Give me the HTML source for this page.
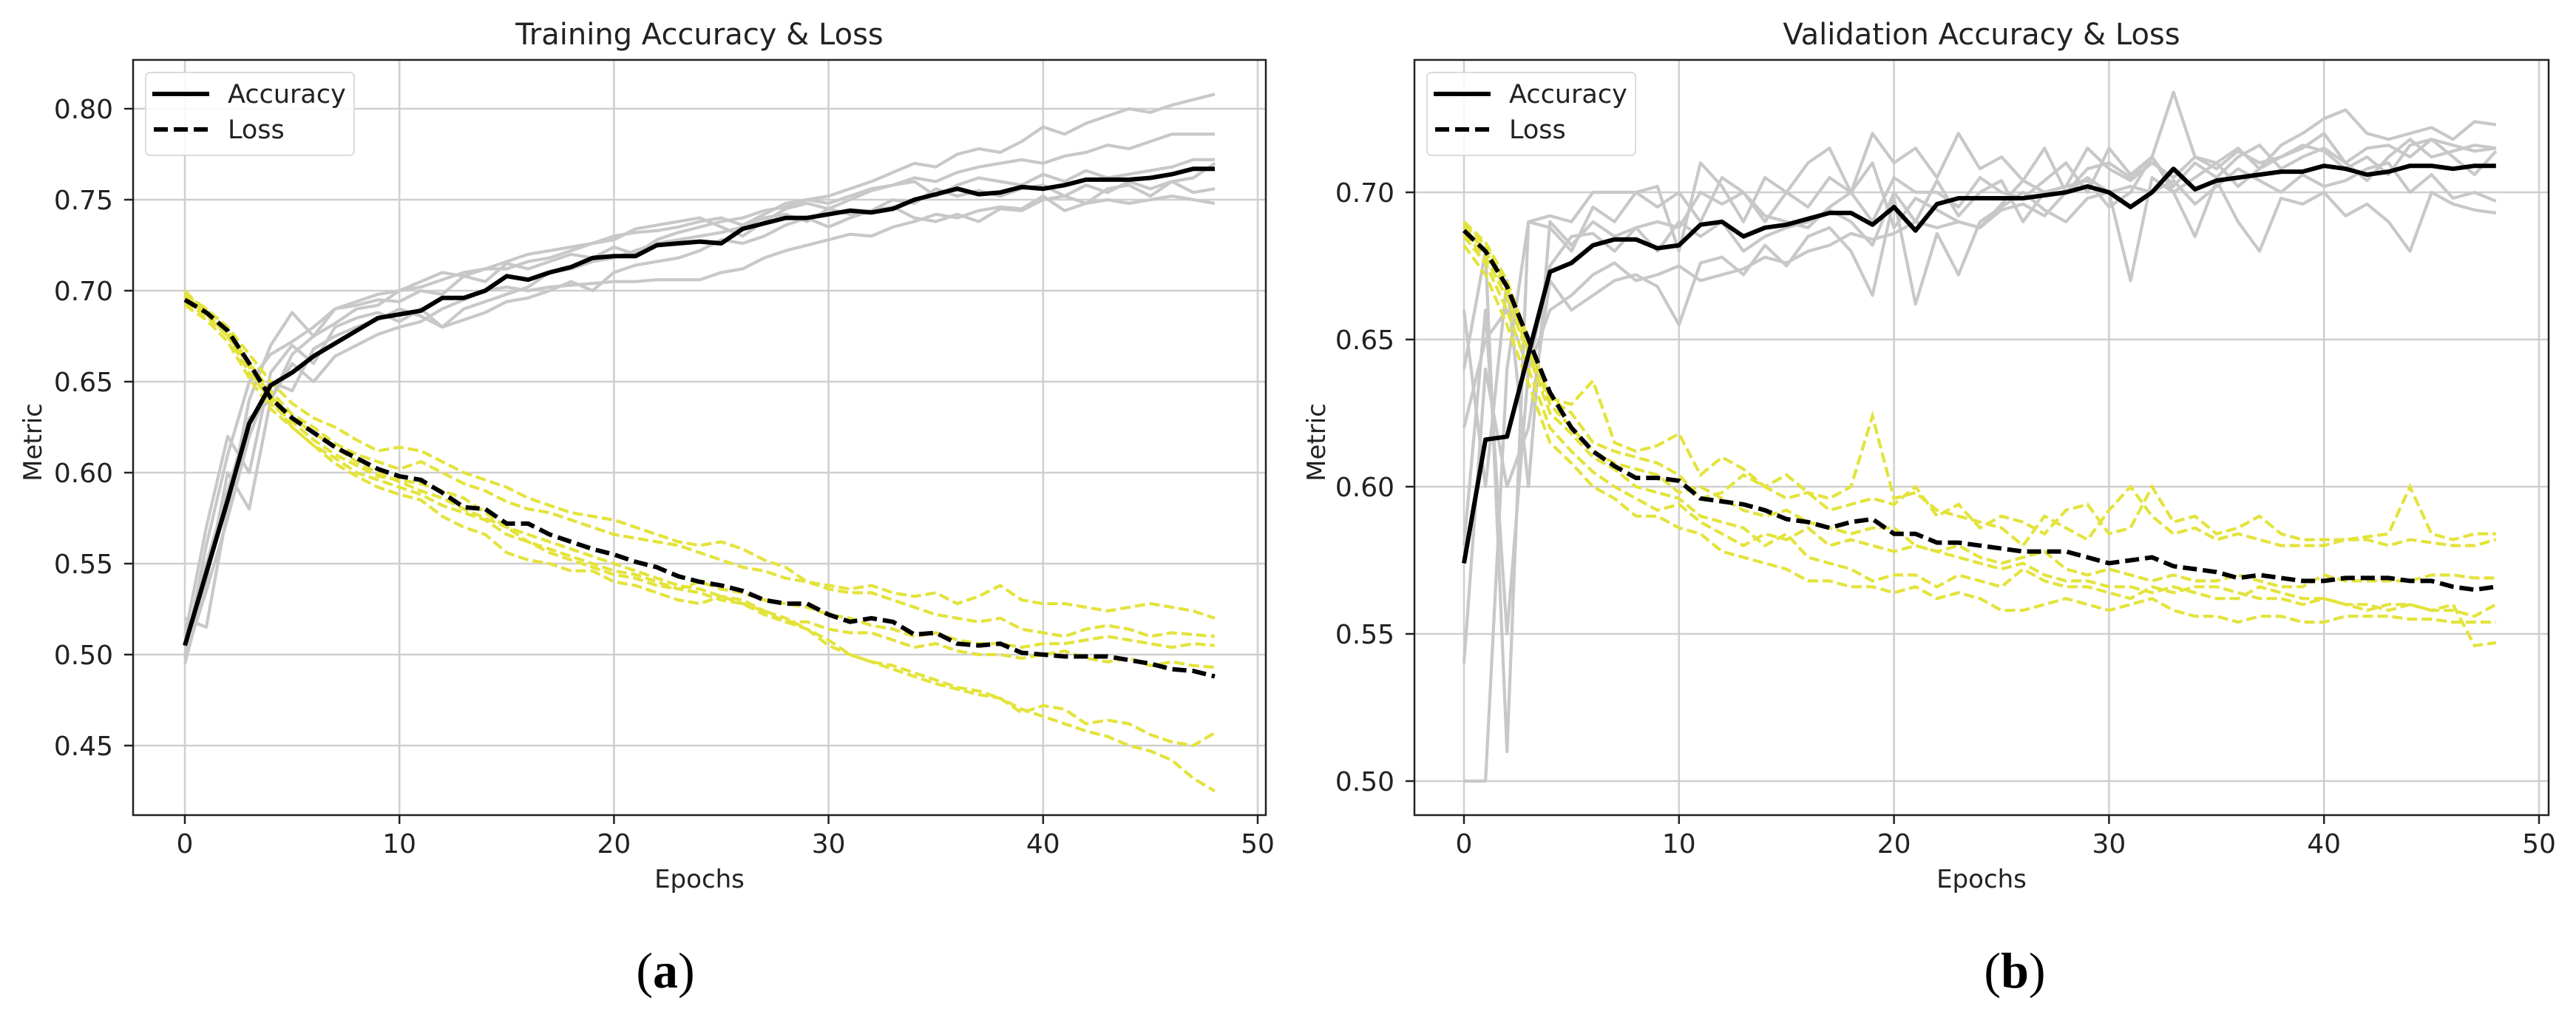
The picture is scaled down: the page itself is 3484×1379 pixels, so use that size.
<!DOCTYPE html>
<html><head><meta charset="utf-8"><style>
html,body{margin:0;padding:0;background:#fff;}
svg{display:block;}
text{font-family:"DejaVu Sans","Liberation Sans",sans-serif;fill:#222;}
</style></head><body>
<svg id="fig" width="3484" height="1379" viewBox="0 0 3484 1379" xmlns="http://www.w3.org/2000/svg"></svg>
<script>
const epochs = Array.from({length:49},(_,i)=>i);
// ---------- Training panel ----------
const trainAccMean = [.505,.545,.585,.627,.648,.655,.664,.671,.678,.685,.687,.689,.696,.696,.700,.708,.706,.710,.713,.718,.719,.719,.725,.726,.727,.726,.734,.737,.740,.740,.742,.744,.743,.745,.750,.753,.756,.753,.754,.757,.756,.758,.761,.761,.761,.762,.764,.767,.767];
const trainLossMean = [.695,.688,.678,.660,.641,.630,.622,.614,.608,.602,.598,.596,.589,.581,.580,.572,.572,.566,.562,.558,.555,.551,.548,.543,.540,.538,.535,.530,.528,.528,.522,.518,.520,.518,.511,.512,.506,.505,.506,.501,.500,.499,.499,.499,.497,.495,.492,.491,.488];
const trainAccRun1 = [.500,.560,.610,.650,.665,.672,.680,.690,.694,.698,.700,.702,.706,.710,.712,.712,.716,.718,.722,.726,.730,.732,.733,.735,.738,.740,.736,.742,.748,.750,.752,.756,.760,.765,.770,.768,.775,.778,.776,.782,.790,.786,.792,.796,.800,.798,.802,.805,.808];
const trainAccRun2 = [.520,.515,.580,.640,.670,.688,.675,.690,.692,.695,.694,.700,.698,.708,.705,.715,.712,.716,.720,.718,.724,.720,.728,.732,.735,.738,.740,.744,.746,.750,.748,.752,.756,.758,.762,.760,.765,.768,.770,.772,.770,.774,.776,.780,.778,.782,.786,.786,.786];
const trainAccRun3 = [.495,.540,.600,.580,.640,.660,.650,.664,.670,.676,.680,.683,.690,.695,.700,.702,.700,.702,.703,.704,.705,.705,.706,.706,.706,.710,.712,.718,.722,.725,.728,.731,.730,.735,.738,.742,.740,.744,.746,.745,.752,.744,.748,.750,.748,.750,.752,.750,.748];
const trainAccRun4 = [.510,.570,.620,.600,.655,.670,.660,.680,.685,.688,.683,.690,.680,.690,.694,.698,.702,.710,.712,.716,.718,.722,.726,.728,.730,.732,.735,.740,.742,.738,.745,.742,.744,.746,.740,.738,.742,.738,.745,.744,.750,.752,.748,.756,.758,.752,.760,.762,.770];
const trainAccRun5 = [.505,.550,.590,.630,.640,.665,.675,.682,.690,.692,.700,.705,.710,.708,.712,.716,.720,.722,.724,.726,.728,.734,.736,.738,.740,.735,.730,.738,.745,.748,.745,.750,.755,.758,.760,.752,.758,.762,.760,.758,.764,.760,.766,.762,.764,.766,.768,.772,.772];
const trainAccRun6 = [.498,.535,.575,.620,.650,.645,.668,.675,.680,.684,.690,.686,.680,.684,.688,.694,.696,.700,.705,.700,.710,.714,.716,.718,.722,.728,.726,.730,.736,.740,.735,.740,.744,.750,.748,.756,.752,.755,.752,.756,.758,.752,.758,.754,.760,.756,.760,.754,.756];
const trainLossRun1 = [.700,.688,.675,.655,.640,.625,.615,.608,.600,.596,.592,.588,.582,.578,.574,.566,.562,.558,.554,.550,.546,.544,.540,.536,.534,.530,.528,.522,.518,.514,.508,.500,.496,.492,.488,.484,.481,.478,.476,.470,.466,.462,.458,.455,.450,.447,.442,.432,.425];
const trainLossRun2 = [.698,.690,.678,.660,.642,.630,.622,.614,.606,.600,.595,.590,.586,.580,.575,.570,.566,.562,.558,.554,.550,.546,.542,.538,.536,.532,.528,.524,.520,.514,.505,.500,.496,.494,.490,.486,.482,.480,.476,.468,.472,.470,.462,.464,.462,.456,.452,.450,.457];
const trainLossRun3 = [.696,.690,.680,.665,.650,.638,.630,.625,.618,.612,.614,.612,.606,.600,.596,.592,.586,.582,.578,.576,.574,.570,.566,.562,.560,.562,.558,.552,.548,.540,.538,.536,.538,.534,.532,.534,.528,.532,.538,.530,.528,.528,.526,.524,.526,.528,.526,.524,.520];
const trainLossRun4 = [.694,.686,.675,.660,.645,.632,.625,.616,.610,.606,.602,.606,.600,.594,.590,.584,.580,.578,.574,.570,.566,.564,.562,.560,.556,.552,.548,.546,.542,.540,.536,.534,.534,.530,.526,.522,.520,.518,.520,.514,.512,.510,.514,.516,.514,.510,.512,.511,.510];
const trainLossRun5 = [.692,.684,.672,.652,.635,.625,.615,.605,.598,.592,.588,.585,.576,.570,.566,.556,.552,.550,.546,.546,.540,.538,.534,.530,.528,.532,.530,.524,.518,.518,.514,.512,.512,.508,.504,.506,.502,.500,.500,.498,.500,.502,.498,.496,.498,.494,.496,.494,.493];
const trainLossRun6 = [.697,.687,.676,.658,.638,.628,.618,.610,.604,.598,.596,.594,.590,.586,.578,.570,.562,.556,.552,.548,.544,.542,.538,.536,.540,.536,.534,.530,.528,.526,.522,.520,.516,.514,.510,.512,.508,.506,.506,.504,.506,.506,.508,.510,.508,.506,.504,.506,.505];
const trainYTicks = [0.45,0.50,0.55,0.60,0.65,0.70,0.75,0.80];
// ---------- Validation panel ----------
const valAccMean = [.574,.616,.617,.645,.673,.676,.682,.684,.684,.681,.682,.689,.690,.685,.688,.689,.691,.693,.693,.689,.695,.687,.696,.698,.698,.698,.698,.699,.700,.702,.700,.695,.700,.708,.701,.704,.705,.706,.707,.707,.709,.708,.706,.707,.709,.709,.708,.709,.709];
const valLossMean = [.687,.680,.668,.650,.632,.620,.612,.607,.603,.603,.602,.596,.595,.594,.592,.589,.588,.586,.588,.589,.584,.584,.581,.581,.580,.579,.578,.578,.578,.576,.574,.575,.576,.573,.572,.571,.569,.570,.569,.568,.568,.569,.569,.569,.568,.568,.566,.565,.566];
const valAccRun1 = [.500,.500,.640,.690,.692,.690,.700,.700,.700,.695,.700,.690,.705,.700,.690,.700,.695,.705,.700,.690,.705,.700,.700,.695,.705,.700,.698,.704,.710,.700,.715,.706,.712,.700,.705,.710,.702,.708,.712,.715,.720,.710,.715,.716,.712,.718,.716,.714,.715];
const valAccRun2 = [.640,.680,.510,.690,.688,.680,.695,.690,.700,.702,.680,.710,.702,.690,.705,.700,.710,.715,.700,.720,.710,.715,.705,.720,.708,.712,.704,.715,.700,.708,.710,.705,.712,.734,.712,.710,.715,.708,.716,.720,.725,.728,.720,.718,.720,.722,.718,.724,.723];
const valAccRun3 = [.660,.600,.670,.600,.690,.682,.690,.685,.688,.680,.690,.685,.690,.680,.685,.688,.690,.694,.690,.682,.700,.690,.704,.692,.700,.704,.690,.700,.702,.704,.695,.700,.712,.702,.710,.705,.712,.716,.708,.712,.715,.710,.704,.712,.718,.712,.714,.716,.715];
const valAccRun4 = [.540,.640,.600,.620,.670,.660,.665,.670,.672,.668,.655,.676,.678,.672,.682,.675,.685,.688,.680,.665,.698,.662,.686,.672,.690,.695,.700,.694,.690,.698,.700,.670,.705,.700,.685,.704,.690,.680,.698,.696,.700,.692,.696,.690,.680,.700,.696,.694,.693];
const valAccRun5 = [.620,.650,.660,.640,.660,.665,.672,.676,.670,.672,.675,.670,.672,.674,.678,.676,.680,.682,.686,.684,.686,.690,.688,.690,.688,.694,.696,.692,.700,.705,.700,.702,.700,.704,.696,.702,.708,.704,.700,.706,.702,.704,.708,.710,.700,.706,.698,.700,.697];
const valAccRun6 = [.580,.660,.550,.640,.675,.685,.686,.680,.688,.690,.688,.700,.696,.700,.692,.690,.688,.695,.700,.710,.688,.698,.694,.690,.688,.696,.704,.700,.702,.715,.708,.704,.710,.705,.712,.708,.714,.710,.712,.716,.714,.708,.712,.706,.716,.718,.712,.706,.714];
const valLossRun1 = [.690,.683,.670,.650,.630,.625,.615,.612,.610,.608,.604,.596,.598,.604,.600,.596,.598,.596,.600,.624,.596,.598,.592,.590,.588,.586,.580,.590,.586,.582,.592,.600,.590,.584,.586,.582,.584,.582,.580,.580,.580,.582,.583,.584,.600,.584,.582,.584,.584];
const valLossRun2 = [.688,.680,.666,.646,.630,.628,.636,.615,.612,.614,.618,.604,.610,.606,.600,.604,.598,.592,.594,.596,.594,.600,.590,.594,.586,.590,.588,.584,.592,.594,.584,.586,.600,.588,.590,.584,.586,.590,.584,.582,.582,.582,.582,.580,.582,.581,.580,.580,.582];
const valLossRun3 = [.685,.676,.660,.640,.620,.612,.605,.600,.596,.592,.594,.588,.584,.580,.584,.582,.586,.580,.582,.580,.578,.580,.578,.576,.574,.572,.574,.570,.568,.568,.566,.566,.564,.566,.564,.562,.562,.566,.564,.562,.562,.560,.560,.558,.560,.558,.558,.556,.560];
const valLossRun4 = [.682,.672,.655,.635,.615,.608,.600,.596,.590,.590,.586,.584,.578,.576,.574,.572,.568,.568,.566,.566,.564,.566,.562,.564,.562,.558,.558,.560,.562,.560,.558,.560,.562,.558,.556,.556,.554,.556,.556,.554,.554,.556,.556,.556,.555,.555,.554,.554,.554];
const valLossRun5 = [.686,.678,.664,.645,.625,.618,.610,.606,.600,.598,.596,.590,.588,.586,.580,.584,.576,.574,.572,.568,.570,.570,.566,.570,.568,.566,.572,.568,.566,.566,.564,.562,.566,.564,.566,.566,.564,.562,.562,.560,.562,.560,.558,.560,.560,.558,.560,.546,.547];
const valLossRun6 = [.689,.682,.668,.648,.628,.620,.612,.608,.606,.604,.598,.600,.596,.592,.590,.592,.588,.586,.584,.586,.586,.580,.578,.580,.576,.574,.576,.578,.572,.570,.572,.570,.568,.570,.568,.568,.570,.568,.566,.566,.570,.568,.568,.568,.568,.570,.570,.569,.569];
const valYTicks = [0.50,0.55,0.60,0.65,0.70];
const xTicks = [0,10,20,30,40,50];

const NS="http://www.w3.org/2000/svg";
const svg=document.getElementById('fig');
function el(tag,attrs,parent){const e=document.createElementNS(NS,tag);for(const k in attrs)e.setAttribute(k,attrs[k]);(parent||svg).appendChild(e);return e;}

function panel(cfg){
  const g=el('g',{});
  
  
  const X=v=>cfg.x0+v*cfg.xs;
  const Y=v=>cfg.yRef-(v-0.70)*cfg.ys;
  xTicks.forEach(t=>{
    const l=el('line',{x1:X(t),x2:X(t),y1:cfg.top,y2:cfg.bottom,stroke:'#cfcfcf','stroke-width':2.5},g);
    
    
  });
  cfg.yTicks.forEach(t=>{
    const l=el('line',{x1:cfg.left,x2:cfg.right,y1:Y(t),y2:Y(t),stroke:'#cfcfcf','stroke-width':2.5},g);
    
    
  });
  const path=(arr)=>arr.map((v,i)=>(i?'L':'M')+X(epochs[i]).toFixed(1)+','+Y(v).toFixed(1)).join('');
  cfg.accRuns.forEach(r=>{
    const p=el('path',{d:path(r),fill:'none',stroke:'#c8c8c8','stroke-width':4.2,'stroke-linejoin':'round'},g);
    
    
  });
  cfg.lossRuns.forEach(r=>{
    const p=el('path',{d:path(r),fill:'none',stroke:'#e3e33c','stroke-width':4.2,'stroke-dasharray':'14,6'},g);
    
    
  });
  const pa=el('path',{d:path(cfg.accMean),fill:'none',stroke:'#000','stroke-width':6,'stroke-linejoin':'round'},g);
  
  
  const pl=el('path',{d:path(cfg.lossMean),fill:'none',stroke:'#000','stroke-width':6,'stroke-dasharray':'19,8'},g);
  
  
  const fr=el('rect',{x:cfg.left,y:cfg.top,width:cfg.right-cfg.left,height:cfg.bottom-cfg.top,fill:'none',stroke:'#222','stroke-width':2.5},g);
  
  
  xTicks.forEach(t=>{
    el('line',{x1:X(t),x2:X(t),y1:cfg.bottom,y2:cfg.bottom+12,stroke:'#222','stroke-width':2.5},g);
    const tx=el('text',{x:X(t),y:cfg.bottom+51,'font-size':36,'text-anchor':'middle'},g);
    tx.textContent=t;
    
    
  });
  cfg.yTicks.forEach(t=>{
    el('line',{x1:cfg.left-12,x2:cfg.left,y1:Y(t),y2:Y(t),stroke:'#222','stroke-width':2.5},g);
    const tx=el('text',{x:cfg.left-27,y:Y(t)+13,'font-size':36,'text-anchor':'end'},g);
    tx.textContent=t.toFixed(2);
    
    
  });
  const title=el('text',{x:(cfg.left+cfg.right)/2,y:60,'font-size':40,'text-anchor':'middle'},g);
  title.textContent=cfg.title;
  
  
  const xl=el('text',{x:(cfg.left+cfg.right)/2,y:1200,'font-size':34,'text-anchor':'middle'},g);
  xl.textContent='Epochs';
  
  
  const yl=el('text',{x:0,y:0,'font-size':34,'text-anchor':'middle',transform:`translate(${cfg.metricX},598) rotate(-90)`},g);
  yl.textContent='Metric';
  
  
  const lg=el('g',{},g);
  
  
  el('rect',{x:cfg.left+17,y:98,width:282,height:112,rx:6,fill:'#fff','fill-opacity':0.85,stroke:'#dcdcdc','stroke-width':2},lg);
  el('line',{x1:cfg.left+26,x2:cfg.left+103,y1:127,y2:127,stroke:'#000','stroke-width':6},lg);
  el('line',{x1:cfg.left+28,x2:cfg.left+103,y1:175,y2:175,stroke:'#000','stroke-width':6,'stroke-dasharray':'19,8'},lg);
  const t1=el('text',{x:cfg.left+128,y:139,'font-size':35},lg);t1.textContent='Accuracy';
  
  
  const t2=el('text',{x:cfg.left+128,y:187,'font-size':35},lg);t2.textContent='Loss';
  
  
  const cap=el('text',{x:cfg.capX,y:1335,'font-size':68,'text-anchor':'middle',style:'font-family:"Liberation Serif",serif;fill:#000'},g);
  cap.innerHTML='(<tspan font-weight="bold">'+cfg.cap+'</tspan>)';
  
  
}

panel({name:'training-panel',title:'Training Accuracy & Loss',cap:'a',capX:900,metricX:56,
  left:180,right:1712,top:81,bottom:1102,x0:250,xs:29.02,yRef:393,ys:2460,yTicks:trainYTicks,
  accMean:trainAccMean,lossMean:trainLossMean,
  accRuns:[trainAccRun1,trainAccRun2,trainAccRun3,trainAccRun4,trainAccRun5,trainAccRun6],
  lossRuns:[trainLossRun1,trainLossRun2,trainLossRun3,trainLossRun4,trainLossRun5,trainLossRun6]});
panel({name:'validation-panel',title:'Validation Accuracy & Loss',cap:'b',capX:2725,metricX:1792,
  left:1913,right:3447,top:81,bottom:1102,x0:1980,xs:29.08,yRef:260,ys:3980,yTicks:valYTicks,
  accMean:valAccMean,lossMean:valLossMean,
  accRuns:[valAccRun1,valAccRun2,valAccRun3,valAccRun4,valAccRun5,valAccRun6],
  lossRuns:[valLossRun1,valLossRun2,valLossRun3,valLossRun4,valLossRun5,valLossRun6]});
</script>
</body></html>
